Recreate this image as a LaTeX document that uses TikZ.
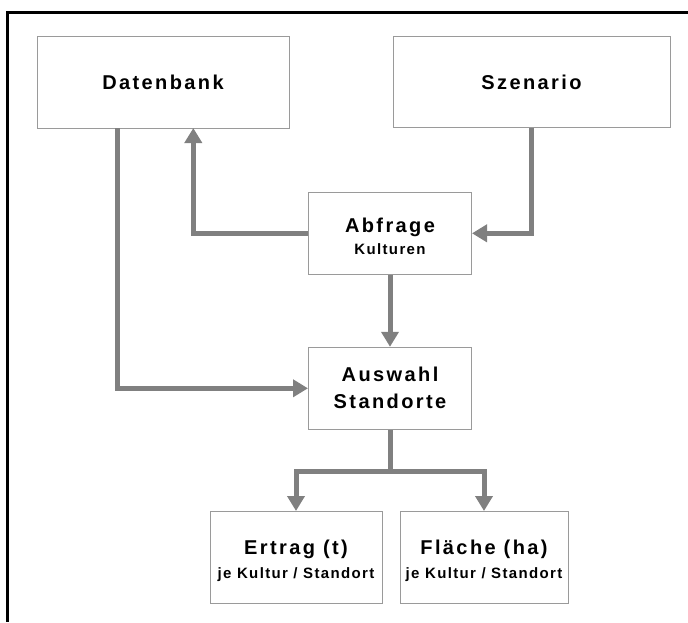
\documentclass[tikz,border=0pt]{standalone}
\usepackage{fontspec}
\setmainfont{Liberation Sans}
\newfontfamily\titlefont{Liberation Sans}[LetterSpace=12]
\newfontfamily\notefont{Liberation Sans}[LetterSpace=9]
\usetikzlibrary{arrows.meta}
\definecolor{flowgray}{HTML}{808080}
\definecolor{boxgray}{HTML}{9A9A9A}
\newcommand{\bigtxt}{\titlefont\bfseries\fontsize{20pt}{22pt}\selectfont}
\newcommand{\smalltxt}{\notefont\bfseries\fontsize{15pt}{18pt}\selectfont}
% invisible strut that pushes a text block down inside its box
\newcommand{\topstrut}[1]{\rule{0pt}{#1}}
\tikzset{
  block/.style={draw=boxgray, line width=1pt, fill=white, align=center,
    inner sep=0pt, font=\bigtxt},
  flow/.style={draw=flowgray, line width=5pt},
  flowarrow/.style={flow, -{Triangle[length=15pt,width=17pt]}},
}
\begin{document}
\begin{tikzpicture}[x=1pt,y=-1pt]
  \useasboundingbox (0,0) rectangle (688,622);
  % outer frame (top and left edges)
  \draw[line width=3pt] (688,12) -- (7,12) -- (7,622);

  % boxes
  \node[block, minimum width=252pt, minimum height=92pt] (db) at (163,82) {Datenbank};
  \node[block, minimum width=277pt, minimum height=91pt] (sz) at (531.5,82) {Szenario};
  \node[block, minimum width=163pt, minimum height=82pt] (ab) at (390,233.3)
    {\topstrut{19.6pt}Abfrage\\[0pt]{\smalltxt Kulturen}};
  \node[block, minimum width=163pt, minimum height=82pt] (aw) at (390,388.3)
    {Auswahl\\[5pt]Standorte};
  \node[block, minimum width=172pt, minimum height=92pt] (er) at (296,557.5)
    {\topstrut{20.6pt}Ertrag (t)\\[2pt]{\smalltxt je Kultur / Standort}};
  \node[block, minimum width=168pt, minimum height=92pt] (fl) at (484,557.5)
    {\topstrut{20.6pt}Fläche (ha)\\[2pt]{\smalltxt je Kultur / Standort}};

  % bends and branch points of the connectors
  \coordinate (dbdown) at (117.5,128);
  \coordinate (dbturn) at (117.5,388.3);
  \coordinate (abturn) at (193.3,233.3);
  \coordinate (dbin) at (193.3,128);
  \coordinate (szout) at (531.5,127.5);
  \coordinate (szturn) at (531.5,233.3);
  \coordinate (fork) at (390,471.7);
  \coordinate (forkl) at (296,471.7);
  \coordinate (forkr) at (484,471.7);

  % connectors
  \draw[flowarrow] (dbdown) -- (dbturn) -- (aw.west);
  \draw[flowarrow] (ab.west) -- (abturn) -- (dbin);
  \draw[flowarrow] (szout) -- (szturn) -- (ab.east);
  \draw[flowarrow] (ab.south) -- (aw.north);
  \draw[flow] (aw.south) -- (fork);
  \draw[flowarrow] (fork) -- (forkl) -- (er.north);
  \draw[flowarrow] (fork) -- (forkr) -- (fl.north);
\end{tikzpicture}
\end{document}
